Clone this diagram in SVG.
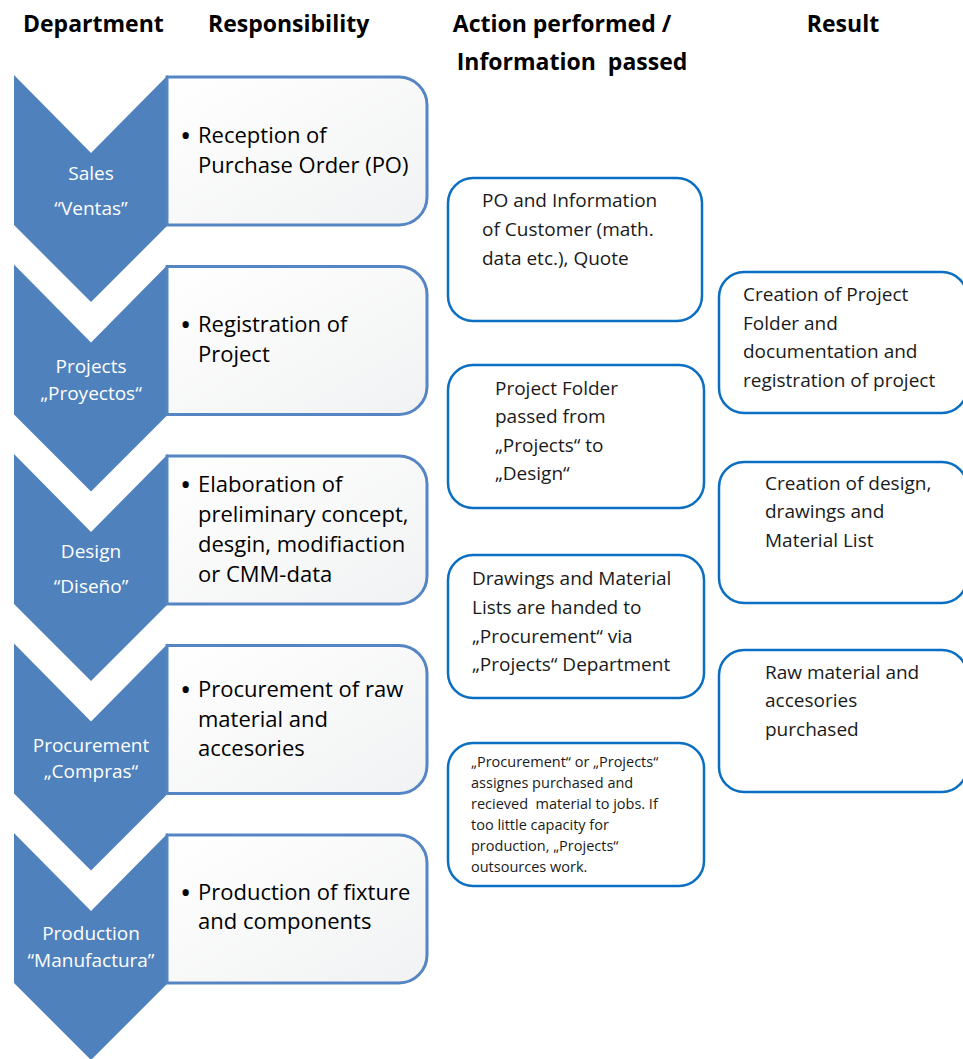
<svg xmlns="http://www.w3.org/2000/svg" width="963" height="1059" viewBox="0 0 963 1059">
<defs>
<linearGradient id="boxfill" x1="0" y1="0" x2="1" y2="1">
<stop offset="0" stop-color="#ffffff"/>
<stop offset="1" stop-color="#f1f2f3"/>
</linearGradient>
<style>
.chev{fill:#4F81BD;}
.resp{fill:url(#boxfill);stroke:#5585C3;stroke-width:3;}
.rbox{fill:#ffffff;stroke:#0A6FC2;stroke-width:2.5;}
.hdr{font-family:"Open Sans","Noto Sans",sans-serif;font-weight:bold;font-size:23px;fill:#000;}
.dept{font-family:"Open Sans","Noto Sans",sans-serif;font-size:19px;fill:#ffffff;text-anchor:middle;}
.rt{font-family:"Open Sans","Noto Sans",sans-serif;font-size:22px;fill:#000;}
.bul{font-family:"Open Sans","Noto Sans",sans-serif;font-size:30px;fill:#000;}
.at{font-family:"Open Sans","Noto Sans",sans-serif;font-size:19px;fill:#1a1a1a;}
.st{font-family:"Open Sans","Noto Sans",sans-serif;font-size:14.5px;fill:#1a1a1a;}
</style>
</defs>
<rect width="963" height="1059" fill="#ffffff"/>

<g id="headers">
<text class="hdr" x="23" y="32">Department</text>
<text class="hdr" x="208" y="32">Responsibility</text>
<text class="hdr" x="562" y="32" text-anchor="middle">Action performed /</text>
<text class="hdr" x="572" y="70" text-anchor="middle" xml:space="preserve">Information  passed</text>
<text class="hdr" x="843" y="32" text-anchor="middle">Result</text>
</g>

<g id="sales">
<path class="chev" d="M14,75 L91,153 L168,75 L168,225 L91,302 L14,225 Z"/>
<path class="resp" d="M167,77 H399 A28,28 0 0 1 427,105 V197 A28,28 0 0 1 399,225 H167 Z"/>
<text class="dept" x="91" y="180">Sales</text>
<text class="dept" x="91" y="215">“Ventas”</text>
<text class="bul" x="180" y="146">•</text>
<text class="rt" x="198" y="143">Reception of</text>
<text class="rt" x="198" y="173">Purchase Order (PO)</text>
</g>

<g id="projects">
<path class="chev" d="M14,264.5 L91,342.5 L168,264.5 L168,414.5 L91,491.5 L14,414.5 Z"/>
<path class="resp" d="M167,266.5 H399 A28,28 0 0 1 427,294.5 V386.5 A28,28 0 0 1 399,414.5 H167 Z"/>
<text class="dept" x="91" y="373">Projects</text>
<text class="dept" x="91" y="400">„Proyectos“</text>
<text class="bul" x="180" y="335">•</text>
<text class="rt" x="198" y="332">Registration of</text>
<text class="rt" x="198" y="362">Project</text>
</g>

<g id="design">
<path class="chev" d="M14,454 L91,532 L168,454 L168,604 L91,681 L14,604 Z"/>
<path class="resp" d="M167,456 H399 A28,28 0 0 1 427,484 V576 A28,28 0 0 1 399,604 H167 Z"/>
<text class="dept" x="91" y="558">Design</text>
<text class="dept" x="91" y="593">“Diseño”</text>
<text class="bul" x="180" y="495">•</text>
<text class="rt" x="198" y="492">Elaboration of</text>
<text class="rt" x="198" y="522">preliminary concept,</text>
<text class="rt" x="198" y="552">desgin, modifiaction</text>
<text class="rt" x="198" y="582">or CMM-data</text>
</g>

<g id="procurement">
<path class="chev" d="M14,643.5 L91,721.5 L168,643.5 L168,793.5 L91,870.5 L14,793.5 Z"/>
<path class="resp" d="M167,645.5 H399 A28,28 0 0 1 427,673.5 V765.5 A28,28 0 0 1 399,793.5 H167 Z"/>
<text class="dept" x="91" y="752">Procurement</text>
<text class="dept" x="91" y="778">„Compras“</text>
<text class="bul" x="180" y="700">•</text>
<text class="rt" x="198" y="697">Procurement of raw</text>
<text class="rt" x="198" y="727">material and</text>
<text class="rt" x="198" y="756">accesories</text>
</g>

<g id="production">
<path class="chev" d="M14,833 L91,911 L168,833 L168,983 L91,1060 L14,983 Z"/>
<path class="resp" d="M167,835 H399 A28,28 0 0 1 427,863 V955 A28,28 0 0 1 399,983 H167 Z"/>
<text class="dept" x="91" y="940">Production</text>
<text class="dept" x="91" y="967">“Manufactura”</text>
<text class="bul" x="180" y="903">•</text>
<text class="rt" x="198" y="900">Production of fixture</text>
<text class="rt" x="198" y="929">and components</text>
</g>

<g id="action1">
<rect class="rbox" x="448" y="178" width="254" height="143" rx="25"/>
<text class="at" x="482" y="207">PO and Information</text>
<text class="at" x="482" y="236">of Customer (math.</text>
<text class="at" x="482" y="265">data etc.), Quote</text>
</g>

<g id="action2">
<rect class="rbox" x="448" y="365" width="256" height="143" rx="25"/>
<text class="at" x="495" y="395">Project Folder</text>
<text class="at" x="495" y="423">passed from</text>
<text class="at" x="495" y="452">„Projects“ to</text>
<text class="at" x="495" y="480">„Design“</text>
</g>

<g id="action3">
<rect class="rbox" x="448" y="555" width="256" height="143" rx="25"/>
<text class="at" x="472" y="585">Drawings and Material</text>
<text class="at" x="472" y="614">Lists are handed to</text>
<text class="at" x="472" y="643">„Procurement“ via</text>
<text class="at" x="472" y="671">„Projects“ Department</text>
</g>

<g id="action4">
<rect class="rbox" x="448" y="743" width="256" height="143" rx="25"/>
<text class="st" x="471" y="767">„Procurement“ or „Projects“</text>
<text class="st" x="471" y="788">assignes purchased and</text>
<text class="st" x="471" y="809" xml:space="preserve">recieved  material to jobs. If</text>
<text class="st" x="471" y="830">too little capacity for</text>
<text class="st" x="471" y="851">production, „Projects“</text>
<text class="st" x="471" y="872">outsources work.</text>
</g>

<g id="result1">
<rect class="rbox" x="719" y="272" width="248" height="141" rx="25"/>
<text class="at" x="743" y="301">Creation of Project</text>
<text class="at" x="743" y="330">Folder and</text>
<text class="at" x="743" y="358">documentation and</text>
<text class="at" x="743" y="387">registration of project</text>
</g>

<g id="result2">
<rect class="rbox" x="719" y="462" width="248" height="141" rx="25"/>
<text class="at" x="765" y="490">Creation of design,</text>
<text class="at" x="765" y="518">drawings and</text>
<text class="at" x="765" y="547">Material List</text>
</g>

<g id="result3">
<rect class="rbox" x="719" y="650" width="248" height="142" rx="25"/>
<text class="at" x="765" y="679">Raw material and</text>
<text class="at" x="765" y="707">accesories</text>
<text class="at" x="765" y="736">purchased</text>
</g>

<g id="connectors"></g>
</svg>
